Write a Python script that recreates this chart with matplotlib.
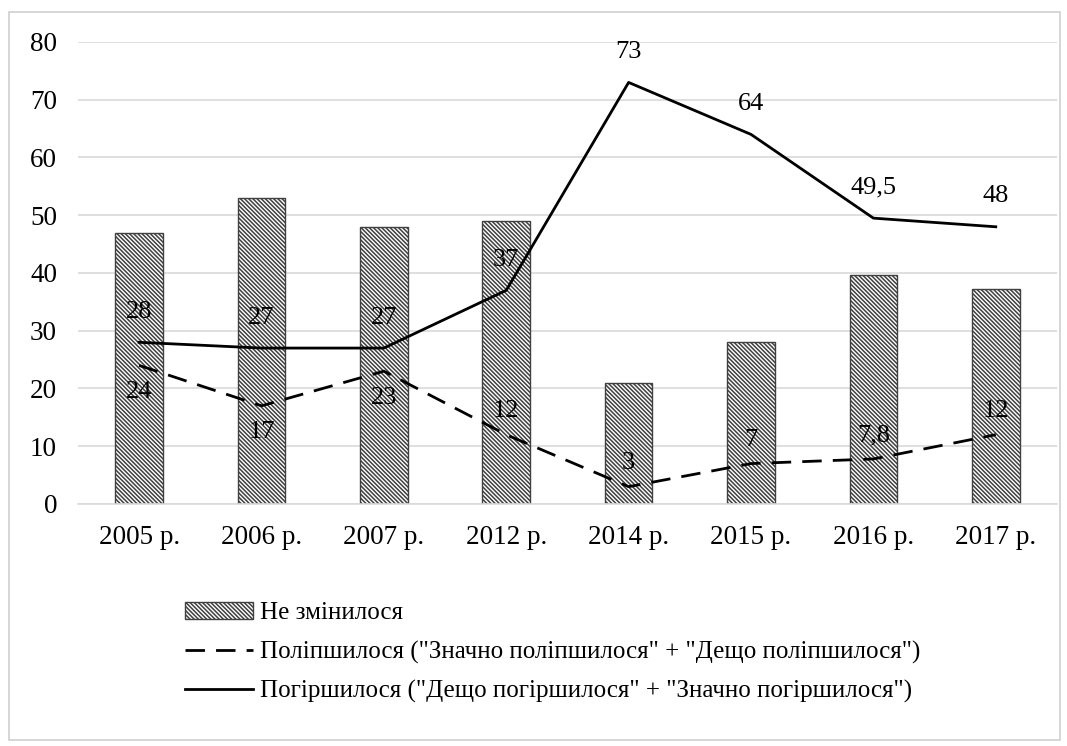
import matplotlib.pyplot as plt
from matplotlib.patches import Rectangle
import numpy as np

plt.rcParams['font.family'] = ['Liberation Serif', 'DejaVu Serif']
plt.rcParams['hatch.linewidth'] = 1.1
plt.rcParams['hatch.color'] = '#505050'

# data
years = ["2005 р.", "2006 р.", "2007 р.", "2012 р.", "2014 р.", "2015 р.", "2016 р.", "2017 р."]
unchanged = [47, 53, 48, 49, 21, 28, 39.7, 37.2]
improved = [24, 17, 23, 12, 3, 7, 7.8, 12]
worsened = [28, 27, 27, 37, 73, 64, 49.5, 48]
improved_labels = ["24", "17", "23", "12", "3", "7", "7,8", "12"]
worsened_labels = ["28", "27", "27", "37", "73", "64", "49,5", "48"]

x = np.arange(len(years))

fig = plt.figure(figsize=(10.67, 7.46), dpi=100)
ax = fig.add_axes([0.073, 0.3244, 0.9176, 0.6193])

b = ax.bar(x, unchanged, width=0.39, color='white', edgecolor='#404040',
           linewidth=1.0, hatch='\\\\\\\\\\\\\\\\', label="Не змінилося", zorder=2)
l1, = ax.plot(x, improved, color='black', lw=2, dashes=(7, 4),
              label='Поліпшилося ("Значно поліпшилося" + "Дещо поліпшилося")', zorder=3)
l2, = ax.plot(x, worsened, color='black', lw=2,
              label='Погіршилося ("Дещо погіршилося" + "Значно погіршилося")', zorder=3)

# value labels
for i, (v, s) in enumerate(zip(worsened, worsened_labels)):
    ax.annotate(s, (x[i], v), xytext=(0, 22), textcoords='offset points',
                ha='center', va='center', fontsize=19, zorder=4)
for i, (v, s) in enumerate(zip(improved, improved_labels)):
    off = -19 if i < 3 else 17
    ax.annotate(s, (x[i], v), xytext=(0, off), textcoords='offset points',
                ha='center', va='center', fontsize=19, zorder=4)

ax.set_xlim(-0.5, len(years) - 0.5)
ax.set_ylim(0, 80)
ax.set_yticks(range(0, 81, 10))
ax.set_xticks(x)
ax.set_xticklabels(years)
ax.tick_params(length=0, labelsize=19.5)
ax.tick_params(axis='y', pad=15)
ax.tick_params(axis='x', pad=15)
ax.grid(axis='y', color='#d9d9d9', lw=1.2, zorder=0)
ax.set_axisbelow(True)
for sp in ['top', 'right', 'left']:
    ax.spines[sp].set_visible(False)
ax.spines['bottom'].set_color('#d9d9d9')
ax.spines['bottom'].set_linewidth(1.2)

fig.legend(handles=[b, l1, l2], loc='upper left', bbox_to_anchor=(0.162, 0.21),
           frameon=False, prop={'family': ['Liberation Serif', 'DejaVu Serif'], 'size': 18},
           handlelength=2.7, handletextpad=0.3, labelspacing=0.65, borderpad=0)

fig.patches.append(Rectangle((0.008, 0.008), 0.985, 0.976, transform=fig.transFigure,
                             fill=False, edgecolor='#d0d0d0', lw=1.2))

fig.savefig("out.png", dpi=100)
